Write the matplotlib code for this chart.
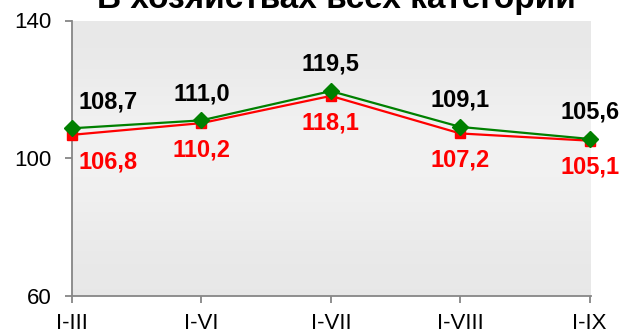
import matplotlib
matplotlib.use('Agg')
import matplotlib.pyplot as plt
import numpy as np

plt.rcParams['font.family'] = ['Liberation Sans', 'DejaVu Sans']

title = 'В хозяйствах всех категорий'
periods = ['I-III', 'I-VI', 'I-VII', 'I-VIII', 'I-IX']
green_vals = [108.7, 111.0, 119.5, 109.1, 105.6]
red_vals = [106.8, 110.2, 118.1, 107.2, 105.1]
y_ticks = [60, 100, 140]

fig = plt.figure(figsize=(6.21, 3.36), dpi=100)
ax = fig.add_axes([72 / 621, 1 - 296 / 336, (591 - 72) / 621, (296 - 20.5) / 336])

x = np.arange(len(periods))
ax.set_xlim(0, 4.01)
ax.set_ylim(60, 140)

# plot area fill: light grey, a bit lighter towards the middle
shade = np.array([0.905, 0.935, 0.95, 0.93, 0.905]).reshape(-1, 1)
ax.imshow(shade, cmap='gray', vmin=0, vmax=1, aspect='auto',
          extent=(0, 4.01, 60, 140), interpolation='bicubic', zorder=0)

ax.plot(x, red_vals, color='#ff0000', lw=1.6, marker='s', ms=7.5,
        mec='#ff0000', mfc='#ff0000', zorder=3, clip_on=False)
ax.plot(x, green_vals, color='#008000', lw=1.6, marker='D', ms=8.5,
        mec='#008000', mfc='#008000', zorder=4, clip_on=False)

for i, (g, r) in enumerate(zip(green_vals, red_vals)):
    dx = 26 if i == 0 else 0
    ax.annotate(f'{g:.1f}'.replace('.', ','), (i, g), xytext=(dx, 11),
                textcoords='offset points', ha='center', va='bottom',
                fontsize=17, fontweight='bold', color='black',
                annotation_clip=False, zorder=5)
    ax.annotate(f'{r:.1f}'.replace('.', ','), (i, r), xytext=(dx, -11),
                textcoords='offset points', ha='center', va='top',
                fontsize=17, fontweight='bold', color='#ff0000',
                annotation_clip=False, zorder=5)

ax.set_xticks(x)
ax.set_xticklabels(periods)
ax.set_yticks(y_ticks)
for side in ['top', 'right']:
    ax.spines[side].set_visible(False)
for side in ['left', 'bottom']:
    ax.spines[side].set_color('#868686')
    ax.spines[side].set_linewidth(1.3)
ax.tick_params(axis='both', colors='#868686', length=5, width=1.3,
               labelsize=16, labelcolor='black')
ax.tick_params(axis='y', pad=10)
ax.tick_params(axis='x', pad=7)

fig.text(336 / 621, 1 - 8 / 336, title, ha='center', va='baseline',
         fontsize=24, fontweight='bold')

fig.savefig('out.png', dpi=100)
